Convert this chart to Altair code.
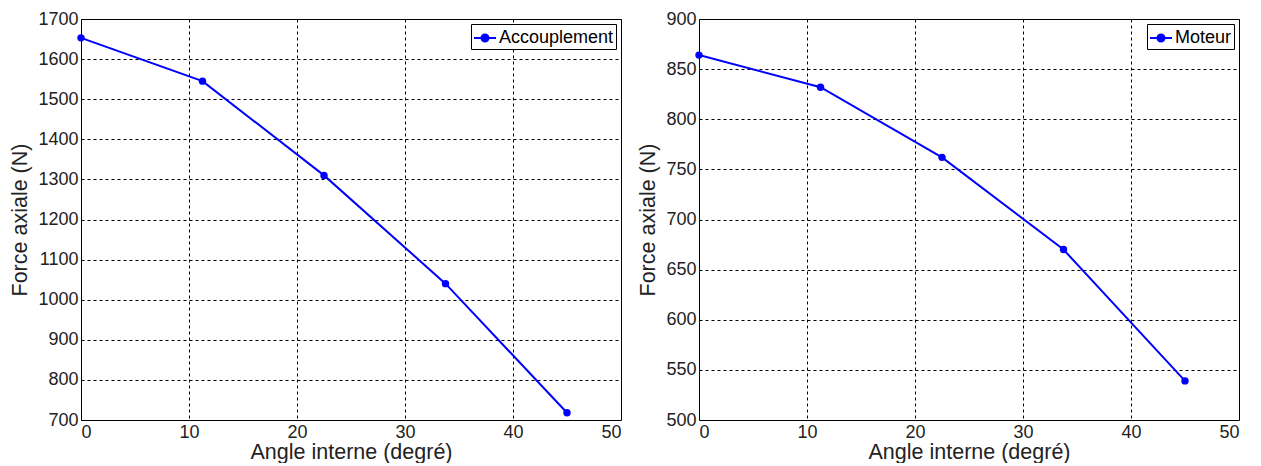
import altair as alt
import pandas as pd

angles = [0, 11.25, 22.5, 33.75, 45]
force_accouplement = [1653, 1545, 1310, 1040, 718]
force_moteur = [864, 832, 762, 670, 539]

FONT = "Liberation Sans"
BLUE = "#0000ff"
SYMBOL = "M-1,0L1,0M-0.32,0A0.32,0.32 0 1,0 0.32,0A0.32,0.32 0 1,0 -0.32,0Z"


def panel(values, name, ymin, ymax, ystep):
    df = pd.DataFrame({"angle": angles, "force": values, "serie": [name] * len(angles)})
    color = alt.Color(
        "serie:N",
        scale=alt.Scale(domain=[name], range=[BLUE]),
        legend=alt.Legend(
            title=None,
            orient="top-right",
            offset=5,
            symbolType=SYMBOL,
            symbolSize=484,
            symbolStrokeWidth=2,
            symbolFillColor=BLUE,
            symbolStrokeColor=BLUE,
            labelFont=FONT,
            labelFontSize=18,
            labelColor="#000000",
            labelOffset=2,
            strokeColor="#000000",
            fillColor="#ffffff",
            padding=2,
            cornerRadius=0,
        ),
    )
    x = alt.X(
        "angle:Q",
        scale=alt.Scale(domain=[0, 50], nice=False),
        axis=alt.Axis(values=list(range(0, 51, 10)), format="d", title="Angle interne (degré)"),
    )
    y = alt.Y(
        "force:Q",
        scale=alt.Scale(domain=[ymin, ymax], nice=False, zero=False),
        axis=alt.Axis(values=list(range(ymin, ymax + 1, ystep)), format="d", title="Force axiale (N)"),
    )
    base = alt.Chart(df).encode(x=x, y=y, color=color)
    line = base.mark_line(strokeWidth=2)
    pts = base.mark_point(filled=True, size=55, opacity=1, shape="circle")
    return alt.layer(line, pts).properties(width=540, height=401)


left = panel(force_accouplement, "Accouplement", 700, 1700, 100)
right = panel(force_moteur, "Moteur", 500, 900, 50)

chart = (
    alt.hconcat(left, right, spacing=15)
    .resolve_scale(color="independent")
    .configure(padding={"left": 1, "top": 1, "right": 5, "bottom": 0})
    .configure_view(stroke="#000000", strokeWidth=1)
    .configure_axis(
        labelFont=FONT,
        titleFont=FONT,
        labelFontSize=18,
        titleFontSize=21.5,
        titleFontWeight="normal",
        labelColor="#222222",
        titleColor="#222222",
        grid=True,
        gridColor="#000000",
        gridDash=[3, 3],
        gridOpacity=1,
        gridWidth=1,
        domain=False,
        ticks=False,
        labelPadding=3,
    )
    .configure_axisY(titlePadding=6)
    .configure_axisX(titlePadding=0)
)

chart.save("out.html", embed_options={"renderer": "svg", "actions": False})
